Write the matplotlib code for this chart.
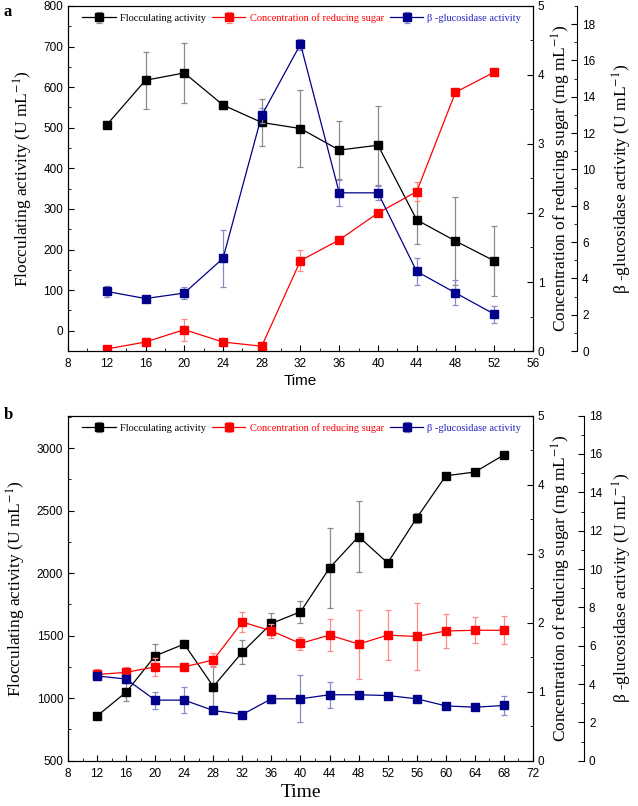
import matplotlib
matplotlib.use("Agg")
import matplotlib.pyplot as plt
from matplotlib.ticker import MultipleLocator

plt.rcParams['font.family'] = ['Liberation Sans', 'DejaVu Sans']
plt.rcParams['mathtext.fontset'] = 'stix'

# ---- panel a data ----
time_a = [12, 16, 20, 24, 28, 32, 36, 40, 44, 48, 52]
floc_a = [507, 617, 635, 556, 513, 498, 445, 457, 273, 221, 172]
floc_a_err = [5, 70, 73, 10, 58, 95, 72, 97, 60, 108, 87]
sugar_a = [0.03, 0.13, 0.31, 0.13, 0.07, 1.31, 1.61, 2.00, 2.31, 3.75, 4.04]
sugar_a_err = [0.02, 0.04, 0.16, 0.05, 0.03, 0.15, 0.02, 0.02, 0.14, 0.04, 0.05]
gluc_a = [3.28, 2.89, 3.19, 5.10, 12.98, 16.9, 8.71, 8.71, 4.38, 3.20, 2.03]
gluc_a_err = [0.3, 0.1, 0.35, 1.57, 0.4, 0.3, 0.72, 0.4, 0.75, 0.69, 0.46]

# ---- panel b data ----
time_b = [12, 16, 20, 24, 28, 32, 36, 40, 44, 48, 52, 56, 60, 64, 68]
floc_b = [858, 1048, 1339, 1433, 1093, 1369, 1598, 1691, 2042, 2293, 2082, 2442, 2779, 2809, 2946]
floc_b_err = [25, 70, 95, 15, 165, 95, 83, 90, 320, 285, 15, 40, 15, 20, 15]
sugar_b = [1.25, 1.28, 1.36, 1.36, 1.46, 2.01, 1.88, 1.70, 1.82, 1.69, 1.82, 1.80, 1.88, 1.89, 1.89]
sugar_b_err = [0.08, 0.08, 0.13, 0.02, 0.1, 0.15, 0.1, 0.09, 0.23, 0.5, 0.36, 0.48, 0.24, 0.19, 0.2]
gluc_b = [4.42, 4.26, 3.16, 3.16, 2.62, 2.41, 3.23, 3.23, 3.44, 3.44, 3.40, 3.23, 2.86, 2.79, 2.88]
gluc_b_err = [0.15, 0.2, 0.44, 0.68, 0.2, 0.08, 0.2, 1.22, 0.67, 0.1, 0.1, 0.15, 0.1, 0.15, 0.47]

serif = ['Liberation Serif', 'DejaVu Serif']
BLUE = '#00008B'


def panel(rect, t, floc, floc_err, sugar, sugar_err, gluc, gluc_err,
          xmax, ylim, ymajor, gluc_top, offset, gluc_pad, time_style):
    ax = fig.add_axes(rect)
    ax2 = ax.twinx()
    ax3 = ax.twinx()

    kw = dict(marker='s', markersize=5.5, lw=0.9, capsize=2.3, elinewidth=0.9, capthick=0.9)
    h1 = ax.errorbar(t, floc, yerr=floc_err, color='black', ecolor='#8a8a8a', **kw)
    h2 = ax2.errorbar(t, sugar, yerr=sugar_err, color='red', ecolor='#ff8a8a', **kw)
    h3 = ax3.errorbar(t, gluc, yerr=gluc_err, color=BLUE, ecolor='#8a8ac8', **kw)

    ax.set_xlim(8, xmax)
    ax.set_ylim(*ylim)
    ax2.set_ylim(0, 5)
    ax3.set_ylim(0, gluc_top)

    ax.xaxis.set_major_locator(MultipleLocator(4))
    ax.xaxis.set_minor_locator(MultipleLocator(2))
    ax.yaxis.set_major_locator(MultipleLocator(ymajor))
    ax.yaxis.set_minor_locator(MultipleLocator(ymajor / 2))
    ax2.yaxis.set_major_locator(MultipleLocator(1))
    ax2.yaxis.set_minor_locator(MultipleLocator(0.5))
    ax3.yaxis.set_major_locator(MultipleLocator(2))
    ax3.yaxis.set_minor_locator(MultipleLocator(1))

    for a in (ax, ax2, ax3):
        a.tick_params(which='both', direction='in', labelsize=8.5)
        a.tick_params(which='major', length=4)
        a.tick_params(which='minor', length=2.5)
    ax.tick_params(axis='x', pad=5)

    ax3.spines['right'].set_position(('axes', offset))
    for s in ('left', 'top', 'bottom'):
        ax3.spines[s].set_visible(False)

    ax.set_ylabel('Flocculating activity (U mL$^{-1}$)', family=serif, fontsize=12.5, labelpad=6)
    ax2.set_ylabel('Concentration of reducing sugar (mg mL$^{-1}$)', family=serif, fontsize=12.5, labelpad=4)
    ax3.set_ylabel('\u03b2 -glucosidase activity (U mL$^{-1}$)', family=serif, fontsize=12.5, labelpad=gluc_pad)
    if time_style == 'sans':
        ax.set_xlabel('Time', fontsize=11, labelpad=3)
    else:
        ax.set_xlabel('Time', family=serif, fontsize=14, labelpad=3)

    leg = ax3.legend([h1, h2, h3],
                     ['Flocculating activity', 'Concentration of reducing sugar', '\u03b2 -glucosidase activity'],
                     loc='upper left', bbox_to_anchor=(0.015, 1.0), ncol=3, frameon=False,
                     prop={'family': serif, 'size': 7.5}, handlelength=3.2,
                     handletextpad=0.4, columnspacing=0.6, borderaxespad=0.3)
    for txt, c in zip(leg.get_texts(), ['black', 'red', '#2020c0']):
        txt.set_color(c)
    return ax


fig = plt.figure(figsize=(6.38, 8.06), dpi=100)

panel([0.1066, 0.5645, 0.7288, 0.4281], time_a, floc_a, floc_a_err, sugar_a, sugar_a_err,
      gluc_a, gluc_a_err, 56, (-50, 800), 100, 19, 1.095, 11, 'sans')
panel([0.1066, 0.0562, 0.7288, 0.4281], time_b, floc_b, floc_b_err, sugar_b, sugar_b_err,
      gluc_b, gluc_b_err, 72, (500, 3260), 500, 18, 1.11, 6, 'serif')

fig.text(0.006, 0.985, 'a', family=serif, fontweight='bold', fontsize=12, va='center')
fig.text(0.006, 0.485, 'b', family=serif, fontweight='bold', fontsize=12, va='center')

fig.savefig('out.png', dpi=100)
